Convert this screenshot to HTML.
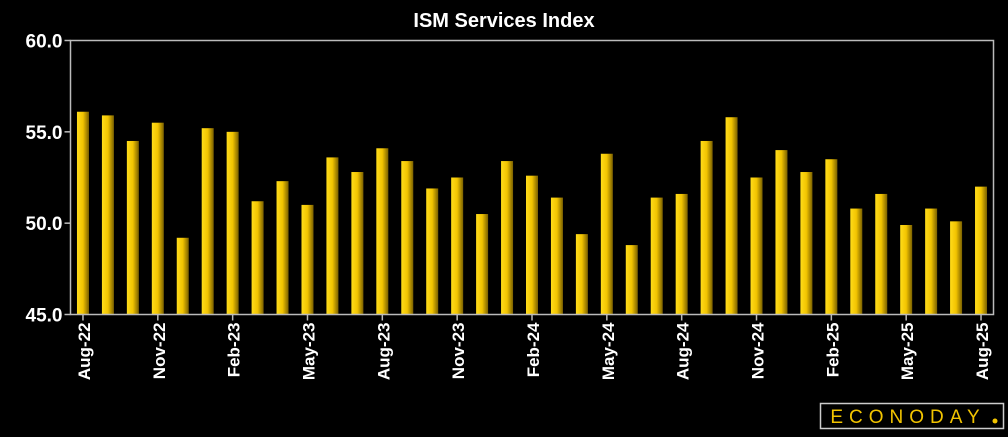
<!DOCTYPE html>
<html><head><meta charset="utf-8"><style>
body{margin:0;background:#000;width:1008px;height:432px;overflow:hidden}
svg text{font-family:"Liberation Sans",sans-serif}
</style></head><body>
<svg width="1008" height="432">
<defs><linearGradient id="g" x1="0" x2="1" y1="0" y2="0">
<stop offset="0" stop-color="#ffdc1a"/><stop offset="0.5" stop-color="#f2c400"/><stop offset="1" stop-color="#7a6000"/></linearGradient></defs>
<text x="504" y="27" text-anchor="middle" fill="#fff" font-size="20" font-weight="bold">ISM Services Index</text>
<g id="bars"></g><g id="axes"></g>
<rect x="820.5" y="403.5" width="183" height="25" fill="none" stroke="#ccc" stroke-width="1.5"/>
<text x="908" y="423" text-anchor="middle" fill="#f2c400" font-size="19" letter-spacing="6">ECONODAY</text>
<circle cx="995" cy="421" r="2.5" fill="#f2c400"/>
</svg>
<script>
const categories=["Aug-22","Sep-22","Oct-22","Nov-22","Dec-22","Jan-23","Feb-23","Mar-23","Apr-23","May-23","Jun-23","Jul-23","Aug-23","Sep-23","Oct-23","Nov-23","Dec-23","Jan-24","Feb-24","Mar-24","Apr-24","May-24","Jun-24","Jul-24","Aug-24","Sep-24","Oct-24","Nov-24","Dec-24","Jan-25","Feb-25","Mar-25","Apr-25","May-25","Jun-25","Jul-25","Aug-25"];
const values=[56.1,55.9,54.5,55.5,49.2,55.2,55.0,51.2,52.3,51.0,53.6,52.8,54.1,53.4,51.9,52.5,50.5,53.4,52.6,51.4,49.4,53.8,48.8,51.4,51.6,54.5,55.8,52.5,54.0,52.8,53.5,50.8,51.6,49.9,50.8,50.1,52.0];
const yTicks=[45,50,55,60];
const yTickLabels=["45.0","50.0","55.0","60.0"];
const L=70.5,R=993.5,T=40.5,B=314.5,ymin=45,ymax=60;
const NS="http://www.w3.org/2000/svg";
const slot=(R-L)/categories.length;
const x=i=>L+slot*(i+0.5);
const y=v=>B-(v-ymin)/(ymax-ymin)*(B-T);
function mk(t,a,p){const e=document.createElementNS(NS,t);for(const k in a)e.setAttribute(k,a[k]);p.appendChild(e);return e;}
const bars=document.getElementById('bars'),axes=document.getElementById('axes');
values.forEach((v,i)=>{const r=mk('rect',{x:x(i)-6,y:y(v),width:12,height:B-y(v),fill:'url(#g)'},bars);

});
const f=mk('rect',{x:L,y:T,width:R-L,height:B-T,fill:'none',stroke:'#bbb','stroke-width':1.5},axes);


yTicks.forEach((t,i)=>{mk('line',{x1:L-6,x2:L,y1:y(t),y2:y(t),stroke:'#bbb','stroke-width':1.5},axes);
const tx=mk('text',{x:L-8,y:y(t)+7,'text-anchor':'end',fill:'#fff','font-size':'19','font-weight':'bold'},axes);tx.textContent=yTickLabels[i];

});
categories.forEach((c,i)=>{if(i%3)return;
mk('line',{x1:x(i),x2:x(i),y1:B,y2:B+6,stroke:'#bbb','stroke-width':1.5},axes);
const tx=mk('text',{transform:`translate(${x(i)+7},${B+8}) rotate(-90)`,'text-anchor':'end',fill:'#fff','font-size':'17','font-weight':'bold'},axes);tx.textContent=c;

});
</script>
</body></html>
